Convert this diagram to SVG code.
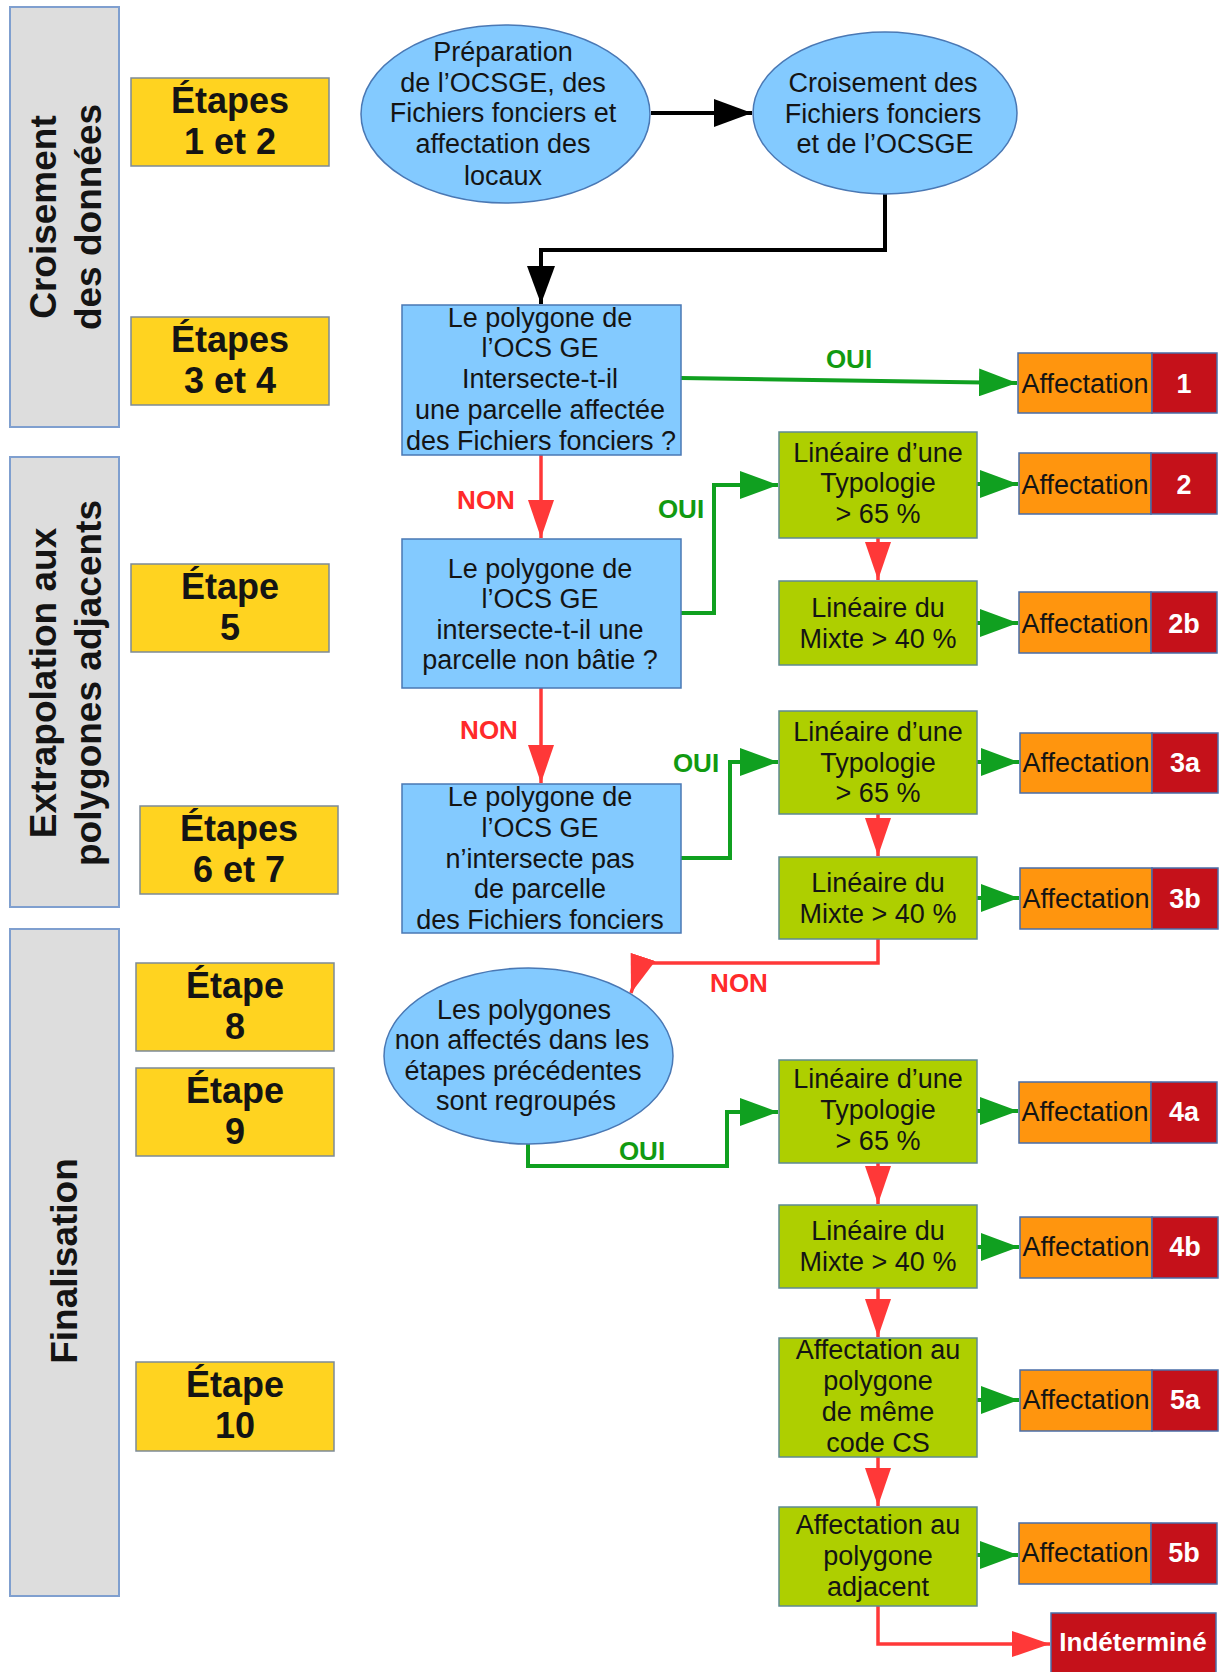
<svg xmlns="http://www.w3.org/2000/svg" width="1225" height="1672" viewBox="0 0 1225 1672">
<style>
text{font-family:"Liberation Sans",Arial,sans-serif;fill:#141414}
.panel{fill:#dddddd;stroke:#7f9fcf;stroke-width:2}
.pt{font-size:37px;font-weight:bold;text-anchor:middle}
.step{fill:#ffd320;stroke:#7d8a96;stroke-width:1.5}
.st{font-size:36px;font-weight:bold;text-anchor:middle}
.blue{fill:#83caff;stroke:#4a78b4;stroke-width:1.5}
.green{fill:#aecf00;stroke:#5f8a92;stroke-width:1.5}
.nt{font-size:27px;text-anchor:middle}
.orange{fill:#ff950e;stroke:#4a6ea8;stroke-width:1.5}
.red{fill:#c5111a;stroke:#4a6ea8;stroke-width:1.5}
.at{font-size:27px;text-anchor:middle}
.num{font-size:27px;font-weight:bold;text-anchor:middle;fill:#ffffff}
.cb{fill:none;stroke:#000000;stroke-width:4}
.cg{fill:none;stroke:#10a020;stroke-width:4}
.cr{fill:none;stroke:#ff3838;stroke-width:3.5}
.oui{font-size:26px;font-weight:bold;text-anchor:middle;fill:#119a11}
.non{font-size:26px;font-weight:bold;text-anchor:middle;fill:#ff2a2a}
</style>
<defs>
<marker id="ahb" markerUnits="userSpaceOnUse" markerWidth="40" markerHeight="28" viewBox="0 0 40 28" refX="38" refY="14" orient="auto"><path d="M0,0 L38,14 L0,28 z" fill="#000000"/></marker>
<marker id="ahg" markerUnits="userSpaceOnUse" markerWidth="40" markerHeight="28" viewBox="0 0 40 28" refX="38" refY="14" orient="auto"><path d="M0,0 L38,14 L0,28 z" fill="#10a020"/></marker>
<marker id="ahr" markerUnits="userSpaceOnUse" markerWidth="40" markerHeight="28" viewBox="0 0 40 28" refX="38" refY="14" orient="auto"><path d="M0,1 L38,14 L0,27 z" fill="#ff3838"/></marker>
</defs>
<rect width="1225" height="1672" fill="#ffffff"/>

<g id="panel-croisement">
<rect class="panel" x="10" y="7" width="109" height="420"/>
<text class="pt" transform="translate(56,217) rotate(-90)">Croisement</text>
<text class="pt" transform="translate(101,217) rotate(-90)">des données</text>
</g>
<g id="panel-extrapolation">
<rect class="panel" x="10" y="457" width="109" height="450"/>
<text class="pt" transform="translate(56,683) rotate(-90)">Extrapolation aux</text>
<text class="pt" transform="translate(101,683) rotate(-90)">polygones adjacents</text>
</g>
<g id="panel-finalisation">
<rect class="panel" x="10" y="929" width="109" height="667"/>
<text class="pt" transform="translate(77,1261) rotate(-90)">Finalisation</text>
</g>

<g id="step-1-2"><rect class="step" x="131" y="78" width="198" height="88"/><text class="st" x="230" y="113">Étapes</text><text class="st" x="230" y="154">1 et 2</text></g>
<g id="step-3-4"><rect class="step" x="131" y="317" width="198" height="88"/><text class="st" x="230" y="352">Étapes</text><text class="st" x="230" y="393">3 et 4</text></g>
<g id="step-5"><rect class="step" x="131" y="564" width="198" height="88"/><text class="st" x="230" y="599">Étape</text><text class="st" x="230" y="640">5</text></g>
<g id="step-6-7"><rect class="step" x="140" y="806" width="198" height="88"/><text class="st" x="239" y="841">Étapes</text><text class="st" x="239" y="882">6 et 7</text></g>
<g id="step-8"><rect class="step" x="136" y="963" width="198" height="88"/><text class="st" x="235" y="998">Étape</text><text class="st" x="235" y="1039">8</text></g>
<g id="step-9"><rect class="step" x="136" y="1068" width="198" height="88"/><text class="st" x="235" y="1103">Étape</text><text class="st" x="235" y="1144">9</text></g>
<g id="step-10"><rect class="step" x="136" y="1362" width="198" height="89"/><text class="st" x="235" y="1397">Étape</text><text class="st" x="235" y="1438">10</text></g>

<g id="connectors">
<path class="cb" d="M651,113 H752" marker-end="url(#ahb)"/>
<path class="cb" d="M885,194 V250 H541 V304" marker-end="url(#ahb)"/>
<path class="cg" d="M681,378 L1017,383" marker-end="url(#ahg)"/>
<path class="cr" d="M541,455 V538" marker-end="url(#ahr)"/>
<path class="cg" d="M681,613 H714 V485 H778" marker-end="url(#ahg)"/>
<path class="cr" d="M541,688 V783" marker-end="url(#ahr)"/>
<path class="cg" d="M681,858 H730 V762 H778" marker-end="url(#ahg)"/>
<path class="cr" d="M878,538 V580" marker-end="url(#ahr)"/>
<path class="cr" d="M878,814 V856" marker-end="url(#ahr)"/>
<path class="cg" d="M977,484 H1018" marker-end="url(#ahg)"/>
<path class="cg" d="M977,623 H1018" marker-end="url(#ahg)"/>
<path class="cg" d="M977,762 H1019" marker-end="url(#ahg)"/>
<path class="cg" d="M977,898 H1019" marker-end="url(#ahg)"/>
<path class="cr" d="M878,939 V963 H641 L631,993" marker-end="url(#ahr)"/>
<path class="cg" d="M528,1143 V1166 H727 V1112 H778" marker-end="url(#ahg)"/>
<path class="cg" d="M977,1111 H1018" marker-end="url(#ahg)"/>
<path class="cr" d="M878,1163 V1204" marker-end="url(#ahr)"/>
<path class="cg" d="M977,1247 H1019" marker-end="url(#ahg)"/>
<path class="cr" d="M878,1288 V1337" marker-end="url(#ahr)"/>
<path class="cg" d="M977,1400 H1019" marker-end="url(#ahg)"/>
<path class="cr" d="M878,1457 V1506" marker-end="url(#ahr)"/>
<path class="cg" d="M977,1555 H1018" marker-end="url(#ahg)"/>
<path class="cr" d="M878,1606 V1644 H1050" marker-end="url(#ahr)"/>
<text class="oui" x="849" y="368">OUI</text>
<text class="non" x="486" y="509">NON</text>
<text class="oui" x="681" y="518">OUI</text>
<text class="non" x="489" y="739">NON</text>
<text class="oui" x="696" y="772">OUI</text>
<text class="non" x="739" y="992">NON</text>
<text class="oui" x="642" y="1160">OUI</text>
</g>

<g id="prep">
<ellipse class="blue" cx="505.5" cy="114" rx="144.5" ry="89"/>
<text class="nt" x="503" y="61">Préparation</text>
<text class="nt" x="503" y="92">de l’OCSGE, des</text>
<text class="nt" x="503" y="122">Fichiers fonciers et</text>
<text class="nt" x="503" y="153">affectation des</text>
<text class="nt" x="503" y="185">locaux</text>
</g>
<g id="croisement">
<ellipse class="blue" cx="885" cy="113" rx="132" ry="81"/>
<text class="nt" x="883" y="92">Croisement des</text>
<text class="nt" x="883" y="123">Fichiers fonciers</text>
<text class="nt" x="885" y="153">et de l’OCSGE</text>
</g>
<g id="q1">
<rect class="blue" x="402" y="305" width="279" height="150"/>
<text class="nt" x="540" y="327">Le polygone de</text>
<text class="nt" x="540" y="357">l’OCS GE</text>
<text class="nt" x="540" y="388">Intersecte-t-il</text>
<text class="nt" x="540" y="419">une parcelle affectée</text>
<text class="nt" x="541" y="450">des Fichiers fonciers ?</text>
</g>
<g id="q2">
<rect class="blue" x="402" y="539" width="279" height="149"/>
<text class="nt" x="540" y="578">Le polygone de</text>
<text class="nt" x="540" y="608">l’OCS GE</text>
<text class="nt" x="540" y="639">intersecte-t-il une</text>
<text class="nt" x="540" y="669">parcelle non bâtie ?</text>
</g>
<g id="q3">
<rect class="blue" x="402" y="784" width="279" height="149"/>
<text class="nt" x="540" y="806">Le polygone de</text>
<text class="nt" x="540" y="837">l’OCS GE</text>
<text class="nt" x="540" y="868">n’intersecte pas</text>
<text class="nt" x="540" y="898">de parcelle</text>
<text class="nt" x="540" y="929">des Fichiers fonciers</text>
</g>
<g id="regroup">
<ellipse class="blue" cx="528.5" cy="1056" rx="144.5" ry="88"/>
<text class="nt" x="524" y="1019">Les polygones</text>
<text class="nt" x="522" y="1049">non affectés dans les</text>
<text class="nt" x="523" y="1080">étapes précédentes</text>
<text class="nt" x="526" y="1110">sont regroupés</text>
</g>

<g id="typo2"><rect class="green" x="779" y="432" width="198" height="106"/><text class="nt" x="878" y="462">Linéaire d’une</text><text class="nt" x="878" y="492">Typologie</text><text class="nt" x="878" y="523">&gt; 65 %</text></g>
<g id="mixte2"><rect class="green" x="779" y="581" width="198" height="84"/><text class="nt" x="878" y="617">Linéaire du</text><text class="nt" x="878" y="648">Mixte &gt; 40 %</text></g>
<g id="typo3"><rect class="green" x="779" y="711" width="198" height="103"/><text class="nt" x="878" y="741">Linéaire d’une</text><text class="nt" x="878" y="772">Typologie</text><text class="nt" x="878" y="802">&gt; 65 %</text></g>
<g id="mixte3"><rect class="green" x="779" y="857" width="198" height="82"/><text class="nt" x="878" y="892">Linéaire du</text><text class="nt" x="878" y="923">Mixte &gt; 40 %</text></g>
<g id="typo4"><rect class="green" x="779" y="1060" width="198" height="103"/><text class="nt" x="878" y="1088">Linéaire d’une</text><text class="nt" x="878" y="1119">Typologie</text><text class="nt" x="878" y="1150">&gt; 65 %</text></g>
<g id="mixte4"><rect class="green" x="779" y="1205" width="198" height="83"/><text class="nt" x="878" y="1240">Linéaire du</text><text class="nt" x="878" y="1271">Mixte &gt; 40 %</text></g>
<g id="cs5a"><rect class="green" x="779" y="1338" width="198" height="119"/><text class="nt" x="878" y="1359">Affectation au</text><text class="nt" x="878" y="1390">polygone</text><text class="nt" x="878" y="1421">de même</text><text class="nt" x="878" y="1452">code CS</text></g>
<g id="adj5b"><rect class="green" x="779" y="1507" width="198" height="99"/><text class="nt" x="878" y="1534">Affectation au</text><text class="nt" x="878" y="1565">polygone</text><text class="nt" x="878" y="1596">adjacent</text></g>

<g id="aff1"><rect class="orange" x="1018" y="353" width="134" height="60"/><rect class="red" x="1152" y="353" width="65" height="60"/><text class="at" x="1085" y="393">Affectation</text><text class="num" x="1184" y="393">1</text></g>
<g id="aff2"><rect class="orange" x="1019" y="453" width="132" height="61"/><rect class="red" x="1151" y="453" width="66" height="61"/><text class="at" x="1085" y="494">Affectation</text><text class="num" x="1184" y="494">2</text></g>
<g id="aff2b"><rect class="orange" x="1019" y="592" width="132" height="61"/><rect class="red" x="1151" y="592" width="66" height="61"/><text class="at" x="1085" y="633">Affectation</text><text class="num" x="1184" y="633">2b</text></g>
<g id="aff3a"><rect class="orange" x="1020" y="733" width="132" height="60"/><rect class="red" x="1152" y="733" width="66" height="60"/><text class="at" x="1086" y="772">Affectation</text><text class="num" x="1185" y="772">3a</text></g>
<g id="aff3b"><rect class="orange" x="1020" y="868" width="132" height="61"/><rect class="red" x="1152" y="868" width="66" height="61"/><text class="at" x="1086" y="908">Affectation</text><text class="num" x="1185" y="908">3b</text></g>
<g id="aff4a"><rect class="orange" x="1019" y="1082" width="132" height="61"/><rect class="red" x="1151" y="1082" width="66" height="61"/><text class="at" x="1085" y="1121">Affectation</text><text class="num" x="1184" y="1121">4a</text></g>
<g id="aff4b"><rect class="orange" x="1020" y="1217" width="132" height="61"/><rect class="red" x="1152" y="1217" width="66" height="61"/><text class="at" x="1086" y="1256">Affectation</text><text class="num" x="1185" y="1256">4b</text></g>
<g id="aff5a"><rect class="orange" x="1020" y="1370" width="132" height="61"/><rect class="red" x="1152" y="1370" width="66" height="61"/><text class="at" x="1086" y="1409">Affectation</text><text class="num" x="1185" y="1409">5a</text></g>
<g id="aff5b"><rect class="orange" x="1019" y="1523" width="132" height="61"/><rect class="red" x="1151" y="1523" width="66" height="61"/><text class="at" x="1085" y="1562">Affectation</text><text class="num" x="1184" y="1562">5b</text></g>
<g id="indetermine"><rect class="red" x="1051" y="1613" width="165" height="70"/><text class="num" x="1133" y="1651" style="font-size:26px">Indéterminé</text></g>
</svg>
